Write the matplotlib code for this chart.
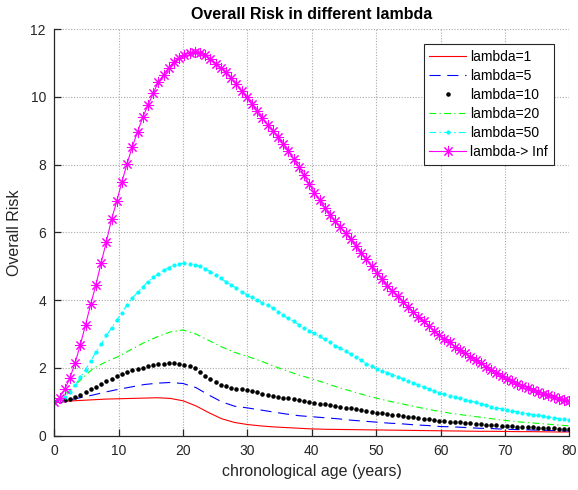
import numpy as np
import matplotlib
matplotlib.use("Agg")
import matplotlib.pyplot as plt

plt.rcParams['font.family'] = ['Liberation Sans', 'DejaVu Sans']

# ---- data ----
labels = ["lambda=1", "lambda=5", "lambda=10", "lambda=20", "lambda=50", "lambda-> Inf"]

# dense sample grid (100 samples 0..80) for the marker series
age_dense = np.linspace(0, 80, 100)
# coarse grid (every 2 years) for the plain line series
age_line = np.arange(0, 81, 2)

risk_l1 = [1.00, 1.02, 1.04, 1.06, 1.08, 1.09, 1.10, 1.11, 1.12, 1.10,
           1.03, 0.88, 0.68, 0.50, 0.39, 0.33, 0.29, 0.26, 0.24, 0.22,
           0.20, 0.19, 0.185, 0.18, 0.175, 0.17, 0.165, 0.16, 0.155, 0.15,
           0.145, 0.14, 0.135, 0.13, 0.13, 0.125, 0.12, 0.12, 0.115, 0.11, 0.11]

risk_l5 = [1.00, 1.04, 1.12, 1.20, 1.29, 1.37, 1.44, 1.51, 1.55, 1.57,
           1.54, 1.42, 1.20, 1.00, 0.87, 0.82, 0.76, 0.70, 0.64, 0.59,
           0.56, 0.53, 0.50, 0.46, 0.43, 0.40, 0.37, 0.35, 0.32, 0.30,
           0.27, 0.26, 0.24, 0.22, 0.21, 0.19, 0.18, 0.17, 0.16, 0.15, 0.14]

risk_l20 = [1.00, 1.27, 1.63, 1.98, 2.18, 2.34, 2.55, 2.75, 2.92, 3.06,
            3.12, 3.00, 2.81, 2.62, 2.46, 2.34, 2.21, 2.06, 1.92, 1.79,
            1.68, 1.56, 1.43, 1.32, 1.21, 1.11, 1.02, 0.94, 0.86, 0.78,
            0.71, 0.65, 0.60, 0.55, 0.50, 0.45, 0.41, 0.38, 0.35, 0.32, 0.29]

risk_l10 = [1.00, 1.02, 1.05, 1.09, 1.14, 1.20, 1.29, 1.37, 1.45, 1.52,
            1.60, 1.67, 1.75, 1.81, 1.87, 1.93, 1.97, 2.01, 2.05, 2.08,
            2.11, 2.13, 2.14, 2.14, 2.13, 2.10, 2.06, 2.00, 1.88, 1.77,
            1.66, 1.57, 1.50, 1.46, 1.42, 1.39, 1.37, 1.35, 1.32, 1.28,
            1.24, 1.20, 1.18, 1.15, 1.12, 1.10, 1.08, 1.06, 1.03, 1.00,
            0.97, 0.95, 0.93, 0.90, 0.88, 0.86, 0.83, 0.81, 0.78, 0.76,
            0.73, 0.70, 0.68, 0.66, 0.64, 0.62, 0.60, 0.58, 0.56, 0.54,
            0.52, 0.50, 0.48, 0.46, 0.44, 0.43, 0.41, 0.40, 0.39, 0.37,
            0.36, 0.35, 0.34, 0.33, 0.32, 0.31, 0.30, 0.29, 0.28, 0.27,
            0.26, 0.25, 0.25, 0.24, 0.23, 0.22, 0.22, 0.21, 0.21, 0.20]

risk_l50 = [1.00, 1.05, 1.15, 1.30, 1.50, 1.72, 1.95, 2.20, 2.47, 2.70,
            2.96, 3.17, 3.41, 3.63, 3.87, 4.06, 4.23, 4.39, 4.54, 4.67,
            4.78, 4.88, 4.96, 5.03, 5.07, 5.09, 5.08, 5.05, 5.00, 4.93,
            4.84, 4.74, 4.64, 4.54, 4.45, 4.35, 4.25, 4.16, 4.08, 4.00,
            3.92, 3.85, 3.77, 3.66, 3.55, 3.46, 3.37, 3.28, 3.19, 3.10,
            3.02, 2.93, 2.84, 2.75, 2.66, 2.58, 2.49, 2.40, 2.31, 2.22,
            2.13, 2.05, 1.98, 1.92, 1.86, 1.80, 1.74, 1.68, 1.62, 1.56,
            1.50, 1.44, 1.38, 1.32, 1.26, 1.22, 1.18, 1.14, 1.10, 1.06,
            1.02, 0.98, 0.94, 0.90, 0.86, 0.82, 0.79, 0.76, 0.73, 0.70,
            0.68, 0.65, 0.62, 0.60, 0.57, 0.55, 0.53, 0.50, 0.48, 0.46]

risk_inf = [1.00, 1.12, 1.37, 1.70, 2.15, 2.68, 3.27, 3.88, 4.45, 5.10,
            5.72, 6.38, 6.92, 7.49, 8.03, 8.53, 8.96, 9.39, 9.75, 10.10,
            10.43, 10.65, 10.86, 11.03, 11.15, 11.24, 11.29, 11.31, 11.30, 11.22,
            11.11, 10.98, 10.85, 10.72, 10.56, 10.38, 10.16, 9.98, 9.79, 9.58,
            9.36, 9.18, 9.00, 8.82, 8.60, 8.40, 8.17, 7.94, 7.68, 7.42,
            7.17, 6.95, 6.73, 6.52, 6.33, 6.16, 5.97, 5.79, 5.60, 5.40,
            5.20, 5.00, 4.80, 4.62, 4.43, 4.27, 4.11, 3.95, 3.80, 3.65,
            3.51, 3.37, 3.23, 3.10, 2.97, 2.86, 2.75, 2.63, 2.53, 2.43,
            2.33, 2.23, 2.14, 2.04, 1.95, 1.85, 1.76, 1.68, 1.61, 1.54,
            1.47, 1.41, 1.35, 1.29, 1.24, 1.19, 1.14, 1.09, 1.05, 1.01]

x_ticks = [0, 10, 20, 30, 40, 50, 60, 70, 80]
y_ticks = [0, 2, 4, 6, 8, 10, 12]

# ---- figure ----
fig = plt.figure(figsize=(5.78, 4.90), dpi=100)
ax = fig.add_axes([54.3 / 578, 54.3 / 490, (569.3 - 54.3) / 578, (435.7 - 29.0) / 490])

lw = 0.8
ax.plot(age_line, risk_l1, color='#ff0000', lw=lw, label=labels[0])
ax.plot(age_line, risk_l5, color='#0000ff', lw=lw, linestyle=(0, (10, 6)), label=labels[1])
ax.plot(age_dense, risk_l10, color='black', linestyle='none', marker='.', markersize=4.5,
        label=labels[2])
ax.plot(age_line, risk_l20, color='#00ff00', lw=lw, linestyle=(0, (6, 3, 1.2, 3)), label=labels[3])
ax.plot(age_dense, risk_l50, color='#00ffff', lw=lw, linestyle=(0, (6, 3, 1.2, 3)), marker='.',
        markersize=4.0, label=labels[4])
ax.plot(age_dense, risk_inf, color='#ff00ff', lw=lw, marker=(8, 2, 0), markersize=8,
        markeredgewidth=0.75, label=labels[5])

ax.set_xlim(0, 80)
ax.set_ylim(0, 12)
ax.set_xticks(x_ticks)
ax.set_yticks(y_ticks)

for s in ['top', 'right']:
    ax.spines[s].set_visible(False)
for s in ['left', 'bottom']:
    ax.spines[s].set_color('#262626')
    ax.spines[s].set_linewidth(0.9)

ax.tick_params(direction='in', length=5, width=0.9, colors='#262626', labelsize=10,
               labelcolor='#262626', pad=6)
ax.grid(True, color='#a8a8a8', linestyle=(0, (1, 1.5)), linewidth=0.8)
ax.set_axisbelow(True)

ax.set_title("Overall Risk in different lambda", fontsize=11.5, fontweight='bold', pad=7)
ax.set_xlabel("chronological age (years)", fontsize=11.5, color='#262626', labelpad=4)
ax.set_ylabel("Overall Risk", fontsize=11.5, color='#262626', labelpad=6)

leg = ax.legend(loc='upper right', fontsize=10, frameon=True, fancybox=False,
                edgecolor='#262626', framealpha=1.0, borderaxespad=1.1,
                handlelength=2.6, handletextpad=0.35, labelspacing=0.36, borderpad=0.42)
leg.get_frame().set_linewidth(0.8)

fig.savefig("out.png", dpi=100)
